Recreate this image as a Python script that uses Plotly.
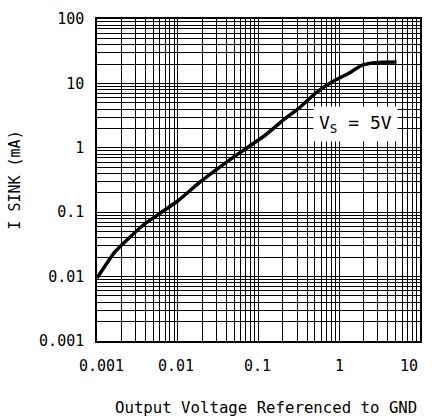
import math
import plotly.graph_objects as go

# Data
v_out = [0.001, 0.00164, 0.0024, 0.00385, 0.00617, 0.0099, 0.0193, 0.0472, 0.122,
         0.215, 0.314, 0.505, 0.807, 1.3, 1.89, 2.77, 5.12]
i_sink = [0.0095, 0.0236, 0.038, 0.065, 0.098, 0.148, 0.30, 0.69, 1.58,
          2.86, 4.08, 7.0, 10.5, 14.2, 19.1, 21.0, 21.4]

x_decades = [0.001, 0.01, 0.1, 1, 10]
x_labels = ["0.001", "0.01", "0.1", "1", "10"]
y_decades = [0.001, 0.01, 0.1, 1, 10, 100]
y_labels = ["0.001", "0.01", "0.1", "1", "10", "100"]

def grid_vals(decades, labels):
    vals, texts = [], []
    for i, d in enumerate(decades):
        vals.append(d)
        texts.append(labels[i])
        if i < len(decades) - 1:
            for m in range(2, 10):
                vals.append(d * m)
                texts.append("")
    return vals, texts

xv, xt = grid_vals(x_decades, x_labels)
yv, yt = grid_vals(y_decades, y_labels)

FAM = "DejaVu Sans Mono"
font = dict(family=FAM, size=15, color="black")

fig = go.Figure()
fig.add_trace(go.Scatter(x=v_out, y=i_sink, mode="lines",
                         line=dict(color="black", width=3.5, shape="spline", smoothing=0.5),
                         showlegend=False, hoverinfo="skip"))

fig.update_xaxes(type="log", range=[-3, 1], tickmode="array", tickvals=xv, ticktext=xt,
                 showticklabels=False,
                 showgrid=True, gridcolor="black", gridwidth=1,
                 showline=True, linecolor="black", linewidth=1.5, mirror=True,
                 ticks="", zeroline=False)
fig.update_yaxes(type="log", range=[-3, 2], tickmode="array", tickvals=yv, ticktext=yt,
                 showgrid=True, gridcolor="black", gridwidth=1,
                 showline=True, linecolor="black", linewidth=1.5, mirror=True,
                 ticks="", tickfont=font, zeroline=False, ticklabelstandoff=8,
                 title=dict(text="I SINK (mA)", font=font, standoff=15))

# x tick labels as annotations so end labels stay inside the page
x_shift = [4, -2, -1, 0, -11]
for d, lab, s in zip(x_decades, x_labels, x_shift):
    fig.add_annotation(x=math.log10(d), y=0, xref="x", yref="paper", text=lab,
                       showarrow=False, yanchor="top", yshift=-14, xshift=s,
                       font=font)

# x axis title
fig.add_annotation(x=0.5, y=0, xref="paper", yref="paper",
                   text="Output Voltage Referenced to GND", showarrow=False,
                   yanchor="top", yshift=-55, xshift=7,
                   font=dict(family=FAM, size=15.7, color="black"))

fig.add_annotation(x=0.2, y=0.375, xref="x", yref="y", text="V<sub>S</sub> = 5V",
                   showarrow=False, bgcolor="white", borderpad=5,
                   font=dict(family=FAM, size=18, color="black"))

fig.update_layout(width=432, height=418, margin=dict(l=97, r=10, t=17, b=77),
                  plot_bgcolor="white", paper_bgcolor="white")

fig.write_html("out.html", config={"displayModeBar": False},
               post_script="document.body.style.margin='0';")
